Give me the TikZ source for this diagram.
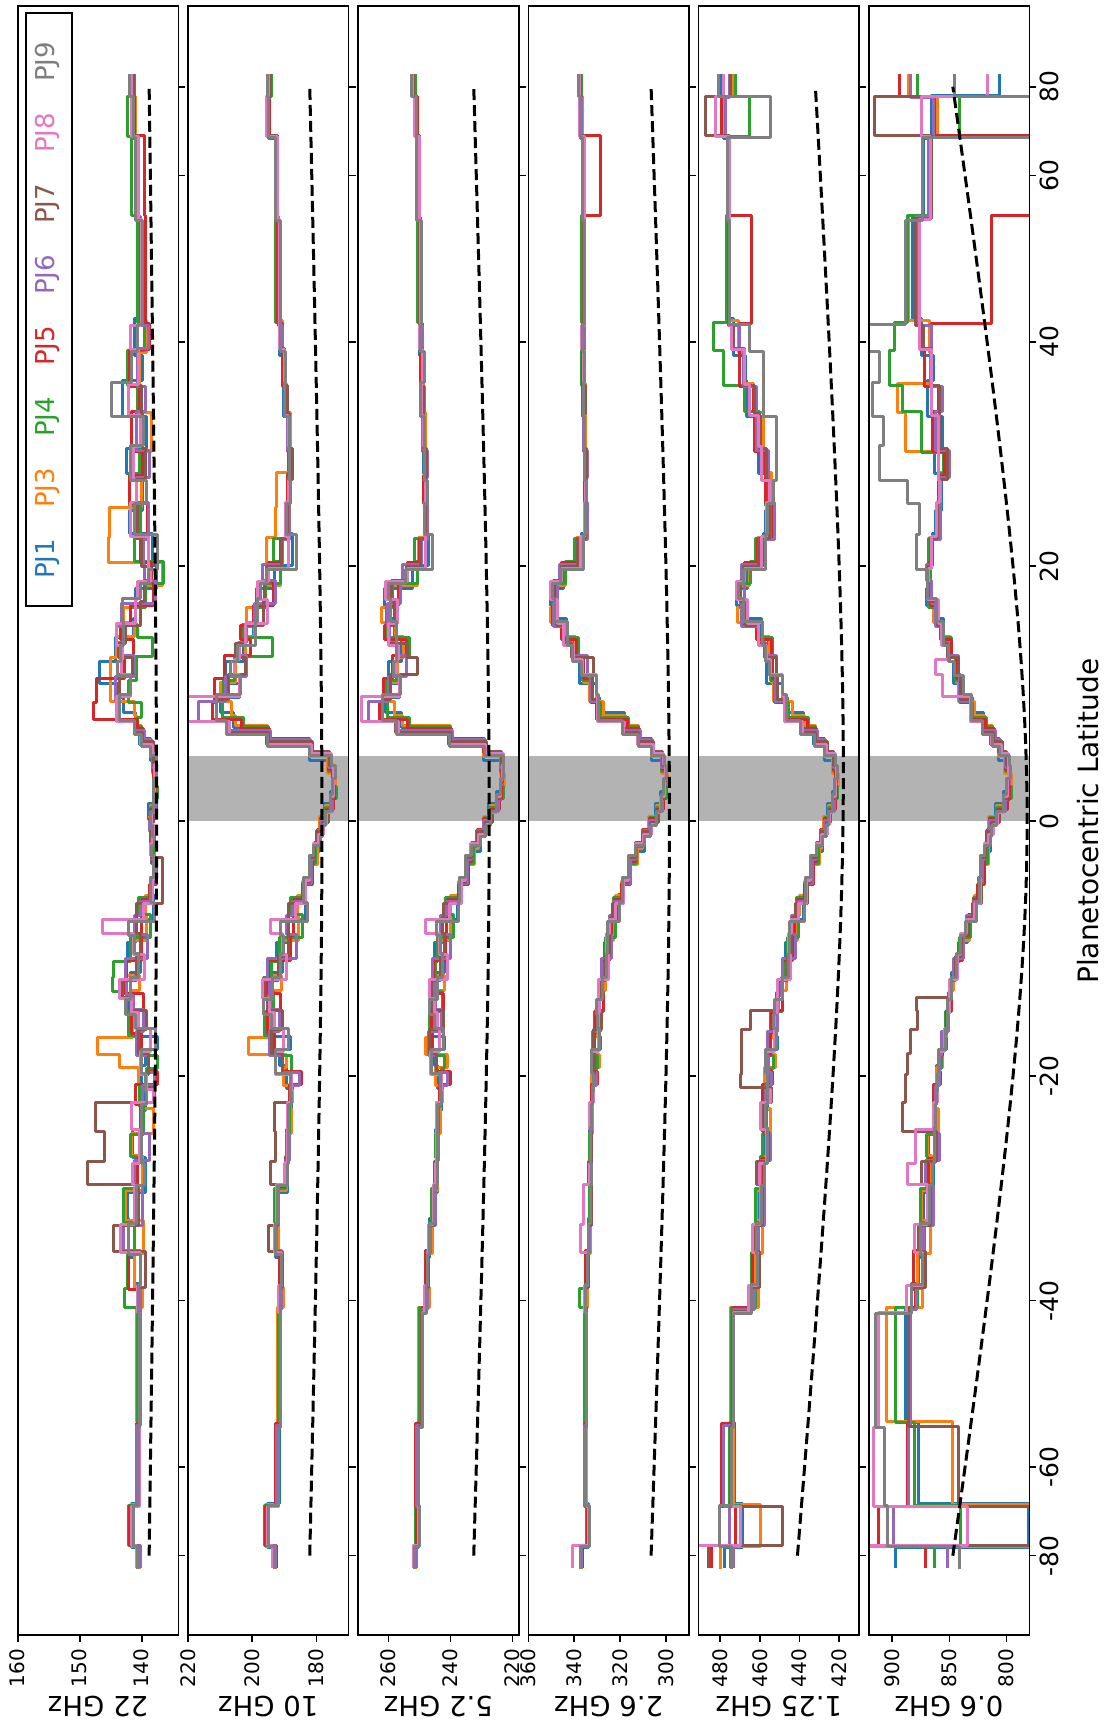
\documentclass[tikz,border=0pt]{standalone}
\usepackage{fontspec}
\setmainfont{DejaVu Sans}
\definecolor{c1}{HTML}{1F77B4}
\definecolor{c3}{HTML}{FF7F0E}
\definecolor{c4}{HTML}{2CA02C}
\definecolor{c5}{HTML}{D62728}
\definecolor{c6}{HTML}{9467BD}
\definecolor{c7}{HTML}{8C564B}
\definecolor{c8}{HTML}{E377C2}
\definecolor{c9}{HTML}{7F7F7F}
\definecolor{bandc}{HTML}{B3B3B3}
\tikzset{
  curve/.style={line width=3pt, line join=round, line cap=rect},
  frame/.style={line width=1.6pt, draw=black},
  tickl/.style={line width=1.6pt, draw=black},
  dashline/.style={line width=3pt, black, dash pattern=on 11pt off 5pt},
  ticklab/.style={rotate=90, anchor=east, inner sep=0pt, font=\fontsize{20}{24}\selectfont},
  latlab/.style={rotate=90, anchor=north, inner sep=0pt, font=\fontsize{25}{30}\selectfont},
  flab/.style={rotate=180, inner sep=0pt, font=\fontsize{27.5}{32}\selectfont},
  leglab/.style={rotate=90, inner sep=0pt, font=\fontsize{26}{30}\selectfont},
}
\newcommand\setpanel[3]{\def\xl{#1}\def\tmax{#2}\def\sk{#3}\pgfmathsetmacro\xr{#1+160.6}}
\def\B#1#2{and(\la>=(#1),\la<(#2))}
\def\jit{0.35}
\newcommand\pjcurve[3]{%
  \gdef\pacc{}%
  \foreach \la/\tb [count=\i] in \blist {%
    \pgfmathsetmacro\lj{\la+\jit*sin(\la*53+#2*29)}%
    \pgfmathsetmacro\yy{821.2-745.8*sin(\lj)}%
    \ifdim\tb pt=0pt\relax
      \xdef\pacc{\pacc -- (\xp,\yy)}%
    \else
      \pgfmathsetmacro\tn{\tb+\ampx*(sin(\la*67+#2*41)+0.6*sin(\la*131+#2*97))/1.3+(#3)}%
      \pgfmathsetmacro\xx{\xl+(\tmax-\tn)*\sk}%
      \ifnum\i=1\relax\xdef\pacc{(\xx,\yy)}\else\xdef\pacc{\pacc -- (\xp,\yy) -- (\xx,\yy)}\fi
      \xdef\xp{\xx}%
    \fi
  }%
  \edef\tmpcmd{\noexpand\draw[curve,#1] \pacc;}\tmpcmd
}
\newcommand\band{\fill[bandc] (\xl,756.2) rectangle (\xr,821.2);}
\newcommand\dashfit[3]{\draw[dashline] plot[domain=-80:80,samples=81,variable=\q] ({\xl+(\tmax-(#1+#2*(sqrt(pow(sin(\q),2)+0.16)-0.4)+#3*sin(\q)))*\sk},{821.2-745.8*sin(\q)});}
\newcommand\frameit{\draw[frame] (\xl,6.3) rectangle (\xr,1635);
  \foreach \lv in {-80,-60,...,80} {\draw[tickl] (\xr,{821.2-745.8*sin(\lv)}) -- ++(7,0);}}
\newcommand\ttick[2]{\pgfmathsetmacro\tx{\xl+(\tmax-(#1))*\sk}\draw[tickl] (\tx,1635) -- (\tx,1642); \node[ticklab] at (\tx,1649) {#2};}
\begin{document}
\begin{tikzpicture}[x=1pt,y=-1pt]
\useasboundingbox (0,0) rectangle (1104,1726);
\fill[white] (0,0) rectangle (1104,1726);

% ---------------- Panel 1: 22 GHz
\setpanel{17.7}{160}{6.2}
\begin{scope}
\clip (\xl,6.3) rectangle (\xr,1635);
\def\blist{-90/140.5,-76.5/141.7,-66.5/140.5,-54/140.5,-41/140.3,-38.5/140.8,-35.5/141.5,-32.5/141.5,-29.5/140.5,-27/140.5,-24.5/139.8,-22.5/139.5,-21/139.3,-19.5/138.6,-18/139.5,-16.5/141,-15/141.5,-13.5/142,-12/141.5,-10.5/141,-9/140.5,-7.5/139.5,-6/138.5,-4.5/138,-3/138.3,-2/138.3,-1/138.5,0/138.5,1/138,2/137.8,3/137.8,4/138,5/138.5,6/140,7/141,8/143,9.5/143.5,11/143,12.5/142.5,14/142,15.5/141.5,17/139.5,18.5/138,20/139.5,22.5/140.5,25/140.5,27.5/140.5,30/139.8,33/141,36/140.5,39/140,42/140.3,54/140.8,66.5/141.3,76.5/141.5,90/0}
\def\ampx{(0.35+1.3*and(abs(\la)>7,abs(\la)<40))}
\pjcurve{c1}{1}{2*\B{9.5}{14}}
\pjcurve{c3}{3}{5*\B{20}{25}+7*\B{-19.5}{-16.5}+2*\B{11}{14}}
\pjcurve{c4}{4}{-2.5*\B{8}{15.5}+2.5*\B{-15}{-10.5}+2.5*\B{-41}{-38.5}+1*\B{54}{76.5}}
\pjcurve{c5}{5}{3.5*\B{8}{11}-1*\B{42}{66.5}+1.5*\B{-35.5}{-32.5}}
\pjcurve{c6}{6}{1.5*\B{14}{17}+1.5*\B{-35.5}{-32.5}}
\pjcurve{c7}{7}{6.5*\B{-29.5}{-22.5}+2*\B{-35.5}{-32.5}-1.5*\B{-6}{-3}}
\pjcurve{c8}{8}{5*\B{-9}{-7.5}+1.5*\B{14}{17}}
\pjcurve{c9}{9}{2.5*\B{33}{39}+2*\B{14}{17}}
\dashfit{137.6}{1.81}{0}
\end{scope}
\frameit
\ttick{160}{160}\ttick{150}{150}\ttick{140}{140}
\node[flab] at ({\xl+80.3},1706) {22 GHz};

% ---------------- Panel 2: 10 GHz
\setpanel{187.9}{220}{3.215}
\begin{scope}
\clip (\xl,6.3) rectangle (\xr,1635);
\band
\def\blist{-90/193,-76.5/195.5,-66.5/192,-54/191.5,-41/191,-38.5/191,-35.5/192.5,-32.5/192.5,-29.5/189.5,-27/189,-24.5/188.5,-22.5/188,-21/188,-19.5/190,-18/192,-16.5/194,-15/194.5,-13.5/194,-12/193,-10.5/190,-9/188,-7.5/186,-6/184,-4.5/182,-3/180.5,-2/179.5,-1/178.5,0/177,1/175.5,2/174.5,3/174.5,4/176,5/182,6/195,7/206,8/210,9.5/207,11/205,12.5/203,14/201,15.5/199,17/196,18.5/194,20/190,22.5/189,25/188.5,27.5/188,30/188.5,33/189.5,36/190,39/191,42/192,54/192.5,66.5/195,76.5/194.5,90/0}
\def\ampx{(0.6+2.5*and(abs(\la)>6,abs(\la)<22))}
\pjcurve{c1}{1}{0}
\pjcurve{c3}{3}{4*\B{20}{27.5}+8*\B{-18}{-16.5}+3*\B{-19.5}{-18}}
\pjcurve{c4}{4}{-6*\B{12.5}{14}+2*\B{-15}{-12}}
\pjcurve{c5}{5}{4*\B{9.5}{12.5}}
\pjcurve{c6}{6}{5*\B{8}{9.5}}
\pjcurve{c7}{7}{4*\B{-29.5}{-22.5}+2*\B{-35.5}{-32.5}}
\pjcurve{c8}{8}{8*\B{8}{9.5}+5*\B{-9}{-7.5}}
\pjcurve{c9}{9}{0}
\dashfit{178.3}{5.73}{0}
\end{scope}
\frameit
\ttick{220}{220}\ttick{200}{200}\ttick{180}{180}
\node[flab] at ({\xl+80.3},1706) {10 GHz};

% ---------------- Panel 3: 5.2 GHz
\setpanel{358.1}{269.8}{3.1}
\begin{scope}
\clip (\xl,6.3) rectangle (\xr,1635);
\band
\def\blist{-90/251.5,-76.5/250.5,-66.5/250.5,-54/249.5,-41/247.5,-38.5/247.5,-35.5/246.5,-32.5/245.5,-29.5/244.5,-27/244.5,-24.5/244,-22.5/243,-21/243,-19.5/244,-18/245,-16.5/245,-15/245,-13.5/244.5,-12/244,-10.5/243,-9/242,-7.5/240,-6/237,-4.5/235,-3/233,-2/231,-1/229,0/227,1/225,2/223.5,3/223,4/223.5,5/229,6/240,7/256,8/261,9.5/259,11/257,12.5/256,14/259,15.5/260,17/259,18.5/253,20/249,22.5/248,25/248,27.5/248,30/248.5,33/249,36/249,39/249.5,42/250,54/250.5,66.5/251,76.5/252,90/0}
\def\ampx{(0.6+2.0*and(abs(\la)>6,abs(\la)<22))}
\pjcurve{c1}{1}{0}
\pjcurve{c3}{3}{2*\B{-18}{-16.5}}
\pjcurve{c4}{4}{0}
\pjcurve{c5}{5}{2*\B{9.5}{12.5}}
\pjcurve{c6}{6}{4*\B{8}{9.5}}
\pjcurve{c7}{7}{-4*\B{11}{14}}
\pjcurve{c8}{8}{6*\B{8}{9.5}+5*\B{-9}{-7.5}}
\pjcurve{c9}{9}{0}
\dashfit{227.5}{7.54}{0}
\end{scope}
\frameit
\ttick{260}{260}\ttick{240}{240}\ttick{220}{220}
\node[flab] at ({\xl+80.3},1706) {5.2 GHz};

% ---------------- Panel 4: 2.6 GHz
\setpanel{528.3}{360}{2.295}
\begin{scope}
\clip (\xl,6.3) rectangle (\xr,1635);
\band
\def\blist{-90/337,-76.5/334,-66.5/335,-54/335,-41/335,-38.5/334.5,-35.5/333.5,-32.5/333,-29.5/333,-27/333,-24.5/332.5,-22.5/332,-21/331.5,-19.5/331,-18/330.5,-16.5/330,-15/329,-13.5/328,-12/327,-10.5/325.5,-9/324,-7.5/322,-6/319,-4.5/316,-3/313,-2/310,-1/307,0/304,1/302,2/300.5,3/300,4/301.5,5/306,6/312,7/318,8/329,9.5/332,11/336,12.5/340,14/344,15.5/349,17/349,18.5/345,20/338,22.5/335,25/335,27.5/335,30/335.5,33/335.5,36/336,39/336,42/336,54/336,66.5/337,76.5/337.5,90/0}
\def\ampx{(0.6+1.0*and(abs(\la)>6,abs(\la)<22))}
\pjcurve{c1}{1}{0}
\pjcurve{c3}{3}{0}
\pjcurve{c4}{4}{3*\B{-41}{-38.5}}
\pjcurve{c5}{5}{-7*\B{54}{66.5}}
\pjcurve{c6}{6}{0}
\pjcurve{c7}{7}{-3*\B{11}{12.5}}
\pjcurve{c8}{8}{3*\B{-35.5}{-29.5}+3*\B{-90}{-76.5}}
\pjcurve{c9}{9}{0}
\dashfit{298.5}{12.07}{0}
\end{scope}
\frameit
\ttick{360}{360}\ttick{340}{340}\ttick{320}{320}\ttick{300}{300}
\node[flab] at ({\xl+80.3},1706) {2.6 GHz};

% ---------------- Panel 5: 1.25 GHz
\setpanel{698.5}{491}{1.98}
\begin{scope}
\clip (\xl,6.3) rectangle (\xr,1635);
\band
\def\blist{-90/476,-76.5/470,-66.5/475,-54/474,-41/463,-38.5/462,-35.5/461,-32.5/460,-29.5/459,-27/457,-24.5/457,-22.5/456.5,-21/456,-19.5/455,-18/454,-16.5/453,-15/451,-13.5/449,-12/447,-10.5/445,-9/443,-7.5/440,-6/437,-4.5/434,-3/431,-2/429,-1/427,0/425,1/423,2/421.5,3/421,4/422.5,5/427,6/432,7/438,8/446,9.5/451,11/454,12.5/456,14/460,15.5/469,17/470,18.5/467,20/460,22.5/455,25/455,27.5/458,30/460,33/464,36/468,39/472,42/476,54/476,66.5/478,76.5/476,90/0}
\def\ampx{(0.8+1.5*and(abs(\la)>6,abs(\la)<42)+3*(abs(\la)>66))}
\pjcurve{c1}{1}{0}
\pjcurve{c3}{3}{-12*\B{-76.5}{-66.5}+3*\B{66.5}{76.5}+5*\B{-90}{-76.5}}
\pjcurve{c4}{4}{12*\B{39}{42}+8*\B{36}{39}+4*\B{33}{36}-12*\B{66.5}{76.5}-5*\B{-76.5}{-66.5}}
\pjcurve{c5}{5}{-12*\B{42}{54}+3*\B{66.5}{76.5}+12*\B{-90}{-76.5}}
\pjcurve{c6}{6}{6*\B{-76.5}{-66.5}}
\pjcurve{c7}{7}{6*\B{66.5}{76.5}-21*\B{-76.5}{-66.5}+14*\B{-21}{-15}+8*\B{-90}{-76.5}}
\pjcurve{c8}{8}{1*\B{-76.5}{-66.5}+15*\B{-90}{-76.5}}
\pjcurve{c9}{9}{-24*\B{66.5}{76.5}+14*\B{-76.5}{-66.5}-8*\B{27.5}{42}-3*\B{-90}{-76.5}}
\dashfit{418}{27.9}{-4.6}
\end{scope}
\frameit
\ttick{480}{480}\ttick{460}{460}\ttick{440}{440}\ttick{420}{420}
\node[flab] at ({\xl+80.3},1706) {1.25 GHz};

% ---------------- Panel 6: 0.6 GHz
\setpanel{868.7}{920.5}{1.144}
\begin{scope}
\clip (\xl,6.3) rectangle (\xr,1635);
\band
\def\blist{-90/870,-76.5/860,-66.5/880,-54/888,-41/880,-38.5/876,-35.5/873,-32.5/870,-29.5/868,-27/865,-24.5/862,-22.5/862,-21/860,-19.5/858,-18/855,-16.5/852,-15/850,-13.5/848,-12/845,-10.5/840,-9/834,-7.5/828,-6/824,-4.5/822,-3/818,-2/816,-1/814,0/808,1/802,2/798,3/797,4/800,5/806,6/812,7/820,8/830,9.5/840,11/844,12.5/850,14/856,15.5/862,17/868,18.5/868,20/866,22.5/860,25/858,27.5/856,30/858,33/862,36/866,39/870,42/880,54/870,66.5/865,76.5/840,90/0}
\def\ampx{(2.0+4*(abs(\la)>25))}
\pjcurve{c1}{1}{-39*\B{76.5}{90}-77*\B{-76.5}{-66.5}+24*\B{-90}{-76.5}+5*\B{42}{54}}
\pjcurve{c3}{3}{50*\B{76.5}{90}+35*\B{30}{36}-90*\B{-76.5}{-66.5}+70*\B{-90}{-76.5}-30*\B{-66.5}{-54}+10*\B{-54}{-41}}
\pjcurve{c4}{4}{44*\B{76.5}{90}-23*\B{66.5}{76.5}+30*\B{33}{42}+15*\B{30}{33}-27*\B{-76.5}{-66.5}-5*\B{-90}{-76.5}+5*\B{-54}{-41}}
\pjcurve{c5}{5}{55*\B{76.5}{90}-100*\B{54}{66.5}-68*\B{42}{54}+48*\B{-76.5}{-66.5}+7*\B{-90}{-76.5}}
\pjcurve{c6}{6}{45*\B{76.5}{90}+40*\B{-76.5}{-66.5}-14*\B{-90}{-76.5}}
\pjcurve{c7}{7}{-62*\B{76.5}{90}+45*\B{66.5}{76.5}-90*\B{-76.5}{-66.5}+70*\B{-90}{-76.5}-38*\B{-66.5}{-54}+28*\B{-24.5}{-13.5}}
\pjcurve{c8}{8}{-27*\B{76.5}{90}+3*\B{66.5}{76.5}+18*\B{9.5}{12.5}+15*\B{-29.5}{-24.5}+38*\B{-66.5}{-54}+28*\B{-54}{-41}-24*\B{-76.5}{-66.5}+60*\B{-90}{-76.5}}
\pjcurve{c9}{9}{-2*\B{76.5}{90}-100*\B{66.5}{76.5}+15*\B{20}{25}+30*\B{25}{27.5}+50*\B{27.5}{42}+15*\B{42}{54}+30*\B{-54}{-41}+28*\B{-66.5}{-54}+50*\B{-76.5}{-66.5}-31*\B{-90}{-76.5}}
\dashfit{782}{98}{0}
\end{scope}
\frameit
\ttick{900}{900}\ttick{850}{850}\ttick{800}{800}
\node[flab] at ({\xl+80.3},1706) {0.6 GHz};

% latitude labels
\foreach \lv/\tx in {80/80,60/60,40/40,20/20,0/0,-20/-20,-40/-40,-60/-60,-80/-80}
  \node[latlab] (lat\lv) at (1039.5,{821.2-745.8*sin(\lv)}) {\tx};
\node[rotate=90, inner sep=0pt, font=\fontsize{28}{32}\selectfont] (xlab) at (1088,821.2) {Planetocentric Latitude};

% legend
\draw[line width=1.6pt, fill=white] (25.7,13) rectangle (71.7,606);
\node[leglab, text=c1] (l1) at (47.5,559) {PJ1};
\node[leglab, text=c3] (l3) at (47.5,488) {PJ3};
\node[leglab, text=c4] (l4) at (47.5,417) {PJ4};
\node[leglab, text=c5] (l5) at (47.5,346) {PJ5};
\node[leglab, text=c6] (l6) at (47.5,275) {PJ6};
\node[leglab, text=c7] (l7) at (47.5,204) {PJ7};
\node[leglab, text=c8] (l8) at (47.5,133) {PJ8};
\node[leglab, text=c9] (l9) at (47.5,62) {PJ9};
\end{tikzpicture}
\end{document}
